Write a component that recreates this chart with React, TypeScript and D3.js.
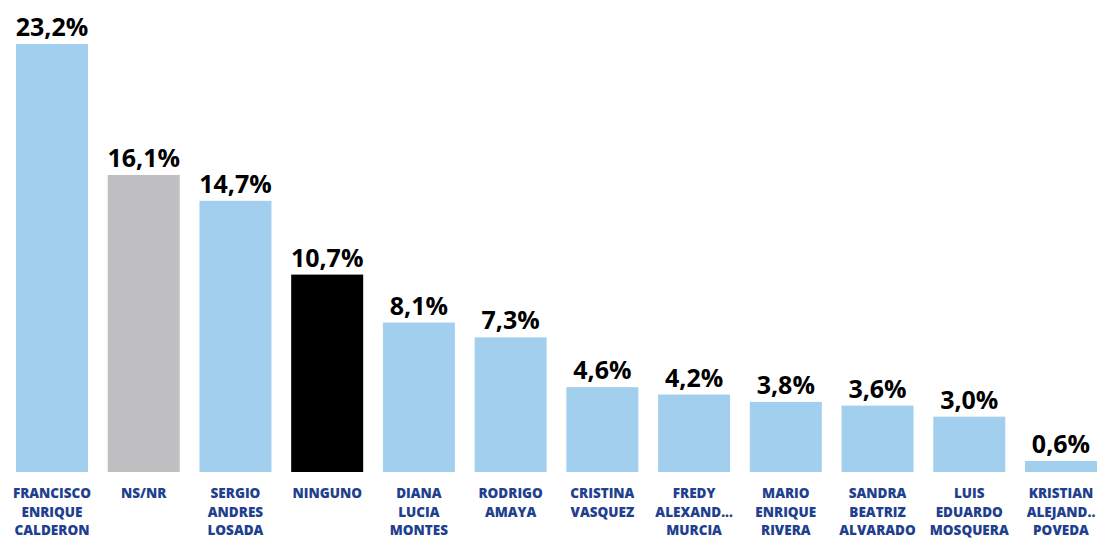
import React from "react";
import * as d3 from "d3";

const categories: string[][] = [
  ["FRANCISCO", "ENRIQUE", "CALDERON"],
  ["NS/NR"],
  ["SERGIO", "ANDRES", "LOSADA"],
  ["NINGUNO"],
  ["DIANA", "LUCIA", "MONTES"],
  ["RODRIGO", "AMAYA"],
  ["CRISTINA", "VASQUEZ"],
  ["FREDY", "ALEXAND...", "MURCIA"],
  ["MARIO", "ENRIQUE", "RIVERA"],
  ["SANDRA", "BEATRIZ", "ALVARADO"],
  ["LUIS", "EDUARDO", "MOSQUERA"],
  ["KRISTIAN", "ALEJAND..", "POVEDA"],
];
const values: number[] = [23.2, 16.1, 14.7, 10.7, 8.1, 7.3, 4.6, 4.2, 3.8, 3.6, 3.0, 0.6];
const barColors: string[] = [
  "#A3CFEE", "#BFBFC1", "#A3CFEE", "#000000", "#A3CFEE", "#A3CFEE",
  "#A3CFEE", "#A3CFEE", "#A3CFEE", "#A3CFEE", "#A3CFEE", "#A3CFEE",
];

const W = 1098;
const H = 539;
const baseline = 472;

export default function App() {
  const idx = values.map((_, i) => String(i));
  const x = d3.scaleBand<string>().domain(idx).range([16, 1097]).paddingInner(0.215).paddingOuter(0);
  const y = d3.scaleLinear().domain([0, 23.2]).range([baseline, 44]);
  const fmt = (v: number) => v.toFixed(1).replace(".", ",") + "%";
  return (
    <svg width={W} height={H} style={{ position: "absolute", left: 0, top: 0, background: "#fff" }}>
      {values.map((v, i) => {
        const bx = x(String(i))!;
        const bw = x.bandwidth();
        const cx = bx + bw / 2;
        return (
          <g key={i}>
            <rect x={bx} y={y(v)} width={bw} height={baseline - y(v)} fill={barColors[i]} />
            <text
              x={cx}
              y={y(v) - 8}
              textAnchor="middle"
              fontFamily="'Open Sans', sans-serif"
              fontWeight={700}
              fontSize={25}
              fill="#000"
            >
              {fmt(v)}
            </text>
            {categories[i].map((line, j) => (
              <text
                key={j}
                x={cx}
                y={498 + j * 18.5}
                textAnchor="middle"
                fontFamily="'Open Sans', sans-serif"
                fontWeight={800}
                fontSize={13.5}
                fill="#213F8E"
              >
                {line}
              </text>
            ))}
          </g>
        );
      })}
    </svg>
  );
}
